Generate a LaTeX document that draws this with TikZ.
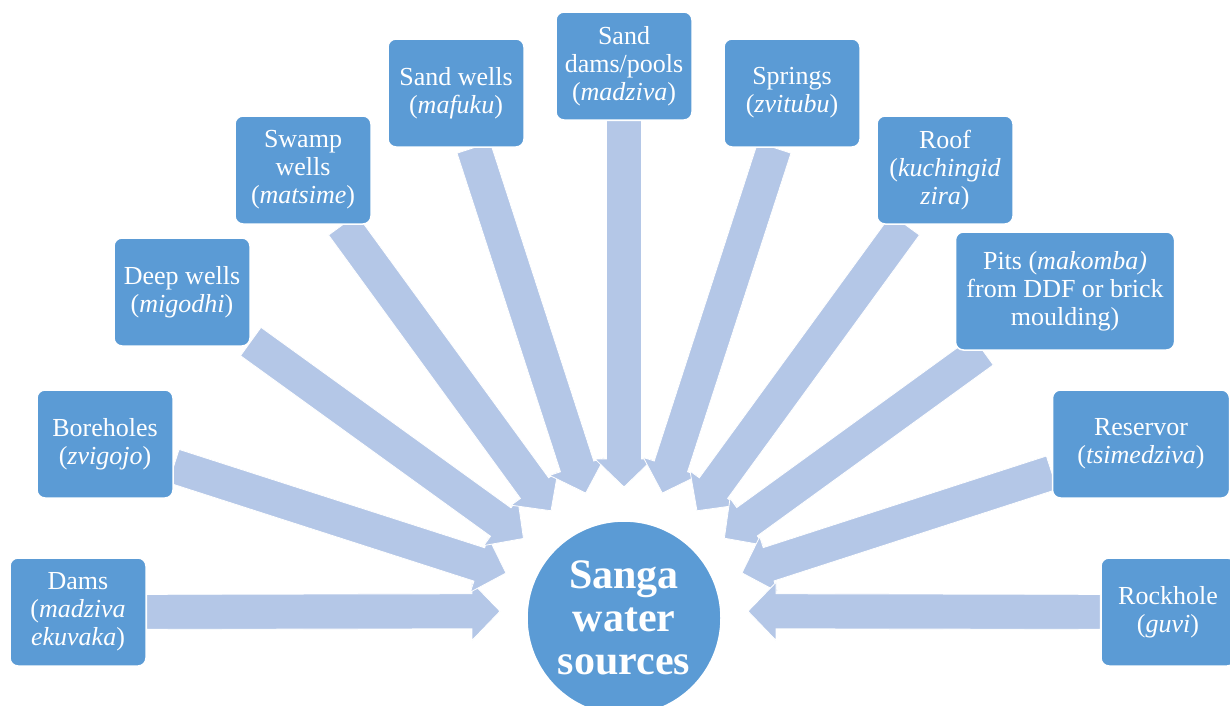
\documentclass[tikz,border=0pt]{standalone}
\usepackage{fontspec}
\setmainfont{Liberation Serif}
\usetikzlibrary{calc,backgrounds}
\definecolor{boxblue}{HTML}{5B9BD5}
\definecolor{arrfill}{HTML}{B4C7E7}
\tikzset{
  srcbox/.style={rectangle, rounded corners=8pt, fill=boxblue, draw=white, line width=1.5pt,
    text=white, align=center, minimum width=136, minimum height=108, inner sep=2pt,
    font=\fontsize{26}{28}\selectfont},
  hubnode/.style={circle, fill=boxblue, draw=white, line width=1.5pt, minimum size=194,
    inner sep=0pt, align=center, text=white, font=\bfseries\fontsize{42}{43}\selectfont},
  blockfill/.style={fill=arrfill, draw=white, line width=0.8pt, line join=miter}
}
\newcommand{\blockarr}[1]{%
  \path (aim) -- (#1) coordinate[pos=1] (#1-s);
  \coordinate (#1-t) at ($(aim)!124pt!(#1.center)$);
  \coordinate (#1-h) at ($(#1-t)!28pt!(#1-s)$);
  \path[blockfill]
    ($(#1-s)!17.5pt!90:(#1-t)$) -- ($(#1-h)!17.5pt!90:(#1-t)$) --
    ($(#1-h)!29pt!90:(#1-t)$) -- (#1-t) --
    ($(#1-h)!29pt!-90:(#1-t)$) -- ($(#1-h)!17.5pt!-90:(#1-t)$) --
    ($(#1-s)!17.5pt!-90:(#1-t)$) -- cycle;
}
\begin{document}
\begin{tikzpicture}[x=1pt,y=-1pt]
\useasboundingbox (0,0) rectangle (1230,705);
\coordinate (aim) at (624,611);
\node[hubnode] (circ) at (624,618) {Sanga\\water\\sources};
\node[srcbox] (dams) at (78,612) {Dams\\(\textit{madziva}\\\textit{ekuvaka})};
\node[srcbox] (bore) at (105,444) {Boreholes\\(\textit{zvigojo})};
\node[srcbox] (deep) at (182,292) {Deep wells\\(\textit{migodhi})};
\node[srcbox] (swamp) at (303,170) {Swamp\\wells\\(\textit{matsime})};
\node[srcbox] (sandw) at (456,93) {Sand wells\\(\textit{mafuku})};
\node[srcbox] (sandd) at (624,66) {Sand\\dams/pools\\(\textit{madziva})};
\node[srcbox] (spring) at (792,93) {Springs\\(\textit{zvitubu})};
\node[srcbox] (roof) at (945,170) {Roof\\(\textit{kuchingid}\\\textit{zira})};
\node[srcbox, minimum width=219, minimum height=118] (pits) at (1065,291) {Pits (\textit{makomba)}\\from DDF or brick\\moulding)};
\node[srcbox, minimum width=177] (resv) at (1141,444) {Reservor\\(\textit{tsimedziva})};
\node[srcbox, minimum width=134] (rock) at (1168,612) {Rockhole\\(\textit{guvi})};
\begin{scope}[on background layer]
  \fill[white] (0,0) rectangle (1230,705);
  \blockarr{dams}
  \blockarr{bore}
  \blockarr{deep}
  \blockarr{swamp}
  \blockarr{sandw}
  \blockarr{sandd}
  \blockarr{spring}
  \blockarr{roof}
  \blockarr{pits}
  \blockarr{resv}
  \blockarr{rock}
\end{scope}
\end{tikzpicture}
\end{document}
